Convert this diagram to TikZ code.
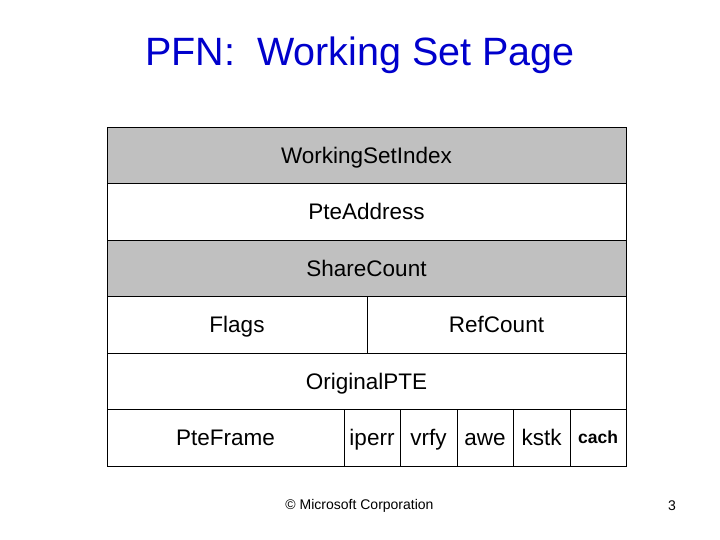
\documentclass[tikz,border=0pt]{standalone}
\usepackage{fontspec}
\setmainfont{Liberation Sans}
\definecolor{slideblue}{RGB}{0,0,204}
\definecolor{fieldgray}{RGB}{192,192,192}
\begin{document}
\begin{tikzpicture}[x=1pt,y=-1pt,
    cell/.style={draw, line width=0.8pt, inner sep=0pt, text height=18pt, text depth=2pt, font=\fontsize{22.5}{27}\selectfont},
    shaded/.style={cell, fill=fieldgray}]
  \useasboundingbox (0,0) rectangle (720,540);
  \node[font=\fontsize{39.5}{47}\selectfont, text=slideblue] (title) at (360,55) {PFN:\ \ Working Set Page};

  \node[shaded, minimum width=519pt, minimum height=56.5pt] (wsi) at (366.5,155.25) {WorkingSetIndex};
  \node[cell, minimum width=519pt, minimum height=56.5pt] (pteaddr) at (366.5,211.75) {PteAddress};
  \node[shaded, minimum width=519pt, minimum height=56.5pt] (share) at (366.5,268.25) {ShareCount};
  \node[cell, minimum width=260pt, minimum height=56.5pt] (flags) at (237,324.75) {Flags};
  \node[cell, minimum width=259pt, minimum height=56.5pt] (refcnt) at (496.5,324.75) {RefCount};
  \node[cell, minimum width=519pt, minimum height=56.5pt] (origpte) at (366.5,381.25) {OriginalPTE};
  \node[cell, minimum width=237pt, minimum height=56.5pt] (pteframe) at (225.5,437.75) {PteFrame};
  \node[cell, minimum width=56pt, minimum height=56.5pt] (iperr) at (372,437.75) {iperr};
  \node[cell, minimum width=57pt, minimum height=56.5pt] (vrfy) at (428.5,437.75) {vrfy};
  \node[cell, minimum width=56pt, minimum height=56.5pt] (awe) at (485,437.75) {awe};
  \node[cell, minimum width=57pt, minimum height=56.5pt] (kstk) at (541.5,437.75) {kstk};
  \node[cell, minimum width=56pt, minimum height=56.5pt, text height=16pt, text depth=4pt, font=\fontsize{17.5}{21}\bfseries] (cach) at (598,437.75) {cach};

  \node[font=\fontsize{14}{17}\selectfont] (copyright) at (359.5,506) {© Microsoft Corporation};
  \node[font=\fontsize{14}{17}\selectfont] (pagenum) at (672,506) {3};
\end{tikzpicture}
\end{document}
